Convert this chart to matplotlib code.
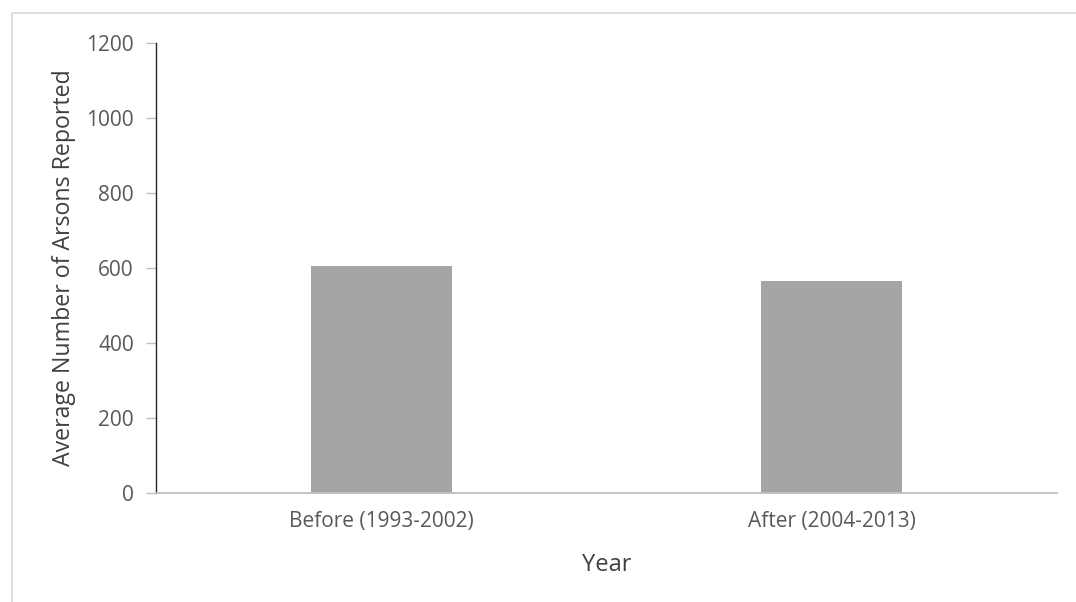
import matplotlib.pyplot as plt
import matplotlib.patches as mpatches
import numpy as np

# Average arsons reported per period
periods = ['Before (1993-2002)', 'After (2004-2013)']
avg_arsons = [606, 565]
yticks = [0, 200, 400, 600, 800, 1000, 1200]

plt.rcParams['font.family'] = ['Open Sans', 'DejaVu Sans']

fig = plt.figure(figsize=(10.76, 6.02), dpi=100)
ax = fig.add_axes([156/1076, 1 - 493/602, 901/1076, 450/602])

# light gray frame round the chart area, like the Excel chart border
fig.patches.append(mpatches.Rectangle((12/1076, -0.1), 1.2, 1 - 13/602 + 0.1,
                                      transform=fig.transFigure, fill=False,
                                      edgecolor='#D9D9D9', linewidth=1.2))

x = np.arange(len(periods))
ax.bar(x, avg_arsons, width=0.313, color='#A5A5A5', zorder=2)

ax.set_xlim(-0.5, len(periods) - 0.5)
ax.set_ylim(0, 1200)
ax.set_yticks(yticks)
ax.set_xticks(x)
ax.set_xticklabels(periods)

for side in ['top', 'right']:
    ax.spines[side].set_visible(False)
ax.spines['left'].set_color('#262626')
ax.spines['left'].set_linewidth(1.0)
ax.spines['bottom'].set_color('#BFBFBF')
ax.spines['bottom'].set_linewidth(1.3)

ax.tick_params(axis='y', length=7, width=1, color='#BFBFBF', labelcolor='#595959',
               labelsize=15, pad=9)
ax.tick_params(axis='x', length=0, labelcolor='#595959', labelsize=15, pad=13)

ax.set_xlabel('Year', fontsize=17, color='#404040', labelpad=15)
ax.set_ylabel('Average Number of Arsons Reported', fontsize=16.7, color='#404040', labelpad=7)

fig.savefig('out.png', dpi=100)
